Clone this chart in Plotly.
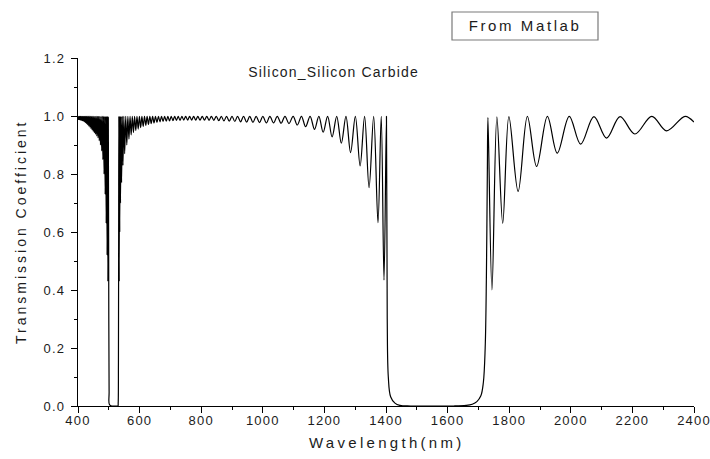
import plotly.graph_objects as go

# ---- data (extrema of the transmission curve) ----
# 400-532 nm: dense fringes left of the short-wavelength stop band, and the band itself
seg_a_wl = [400.0, 401.6, 403.2, 404.8, 406.4, 408.0, 409.6, 411.2, 412.9, 414.5, 416.2, 417.8,
            419.5, 421.1, 422.8, 424.5, 426.2, 427.9, 429.7, 431.4, 433.2, 434.9, 436.7, 438.5,
            440.3, 442.1, 444.0, 445.8, 447.7, 449.5, 451.4, 453.3, 455.2, 457.1, 459.1, 461.0,
            463.0, 464.9, 466.9, 468.9, 470.9, 472.9, 474.9, 476.9, 478.9, 480.8, 482.7, 484.6,
            486.4, 488.2, 489.9, 491.5, 493.0, 494.4, 495.7, 497.0, 498.4, 500.0, 501.0, 502.0,
            510.0, 520.0, 529.5, 530.5, 531.3, 532.0]
seg_a_t = [0.999, 0.988, 0.999, 0.987, 0.999, 0.986, 0.999, 0.985, 0.999, 0.984, 0.999, 0.982,
           0.999, 0.980, 0.999, 0.977, 0.999, 0.974, 0.999, 0.970, 0.999, 0.966, 0.999, 0.962,
           0.999, 0.957, 0.999, 0.952, 0.999, 0.947, 0.999, 0.942, 0.999, 0.937, 0.999, 0.931,
           0.999, 0.925, 0.999, 0.915, 0.999, 0.900, 0.999, 0.880, 0.999, 0.850, 0.999, 0.800,
           0.999, 0.730, 0.999, 0.630, 0.999, 0.520, 0.999, 0.430, 0.995, 0.300, 0.050, 0.005,
           0.000, 0.000, 0.000, 0.010, 0.150, 0.600]

# 532-1085 nm: fringes between the two stop bands
seg_b_wl = [532.6, 533.8, 534.7, 535.6, 536.8, 538.0, 539.8, 541.5, 543.8, 546.0, 548.8, 551.5,
            555.0, 558.4, 561.9, 565.4, 569.0, 572.6, 576.3, 580.0, 583.8, 587.6, 591.5, 595.4,
            599.4, 603.4, 607.5, 611.6, 615.9, 620.1, 624.4, 628.8, 633.2, 637.7, 642.3, 646.9,
            651.6, 656.4, 661.2, 666.1, 671.2, 676.2, 681.3, 686.5, 691.8, 697.2, 702.7, 708.2,
            713.8, 719.6, 725.3, 731.3, 737.2, 743.4, 749.6, 755.9, 762.4, 768.9, 775.5, 782.3,
            789.0, 796.2, 803.4, 810.6, 818.0, 825.5, 833.0, 841.0, 849.0, 857.1, 865.3, 873.8,
            882.3, 891.1, 900.0, 909.2, 918.0, 928.0, 937.5, 947.6, 957.5, 968.0, 978.5, 989.4,
            1000.0, 1011.7, 1023.0, 1035.0, 1047.0, 1059.4, 1072.0]
seg_b_t = [0.999, 0.430, 0.999, 0.600, 0.999, 0.700, 0.999, 0.770, 0.999, 0.830, 0.999, 0.870,
           0.999, 0.900, 0.999, 0.920, 0.999, 0.935, 0.999, 0.943, 0.999, 0.950, 0.999, 0.955,
           0.999, 0.960, 0.999, 0.964, 0.999, 0.968, 0.999, 0.971, 0.999, 0.974, 0.999, 0.976,
           0.999, 0.978, 0.999, 0.980, 0.999, 0.981, 0.999, 0.982, 0.999, 0.983, 0.999, 0.984,
           0.999, 0.985, 0.999, 0.985, 0.999, 0.986, 0.999, 0.986, 0.999, 0.986, 0.999, 0.986,
           0.999, 0.986, 0.999, 0.986, 0.999, 0.985, 0.999, 0.985, 0.999, 0.984, 0.999, 0.983,
           0.999, 0.982, 0.999, 0.981, 0.999, 0.980, 0.999, 0.979, 0.999, 0.978, 0.999, 0.977,
           0.999, 0.976, 0.999, 0.976, 0.999, 0.975, 0.999]

# 1085-1445 nm: growing fringes and the short edge of the main stop band
seg_c_wl = [1085.0, 1098.5, 1112.0, 1125.5, 1139.0, 1153.5, 1168.0, 1182.0, 1196.0, 1210.5,
            1225.0, 1240.0, 1255.0, 1270.0, 1285.0, 1300.5, 1316.0, 1330.5, 1345.0, 1360.0,
            1374.0, 1384.5, 1393.5, 1401.5, 1404.0, 1407.5, 1415.0, 1429.0, 1445.0]
seg_c_t = [0.974, 0.999, 0.969, 0.999, 0.963, 0.999, 0.954, 0.999, 0.944, 0.999,
           0.928, 0.999, 0.906, 0.999, 0.874, 0.999, 0.828, 0.999, 0.753, 0.999,
           0.632, 0.999, 0.434, 0.999, 0.300, 0.100, 0.032, 0.010, 0.002]

# 1480-2400 nm: inside the stop band, long edge and fringes beyond it
seg_d_wl = [1480.0, 1550.0, 1620.0, 1660.0, 1680.0, 1695.0, 1708.0, 1716.0, 1722.0, 1726.0,
            1729.0, 1731.0, 1744.0, 1760.0, 1779.0, 1799.0, 1829.0, 1859.0, 1889.0, 1924.0,
            1956.0, 1995.0, 2032.0, 2075.0, 2116.0, 2160.0, 2208.0, 2263.0, 2311.0, 2371.0, 2400.0]
seg_d_t = [0.000, 0.000, 0.000, 0.002, 0.006, 0.015, 0.035, 0.080, 0.200, 0.450,
           0.800, 0.995, 0.400, 0.997, 0.630, 0.998, 0.740, 0.999, 0.826, 0.999,
           0.872, 0.999, 0.903, 0.998, 0.924, 0.998, 0.938, 0.999, 0.949, 0.999, 0.979]

x_ticks = [400, 600, 800, 1000, 1200, 1400, 1600, 1800, 2000, 2200, 2400]
y_ticks = [0.0, 0.2, 0.4, 0.6, 0.8, 1.0, 1.2]

wl = seg_a_wl + seg_b_wl + seg_c_wl + seg_d_wl
tr = seg_a_t + seg_b_t + seg_c_t + seg_d_t

FONT = "Arial, Liberation Sans, sans-serif"
TXT = "#1c1c1c"

fig = go.Figure()
fig.add_trace(go.Scatter(x=wl, y=tr, mode="lines",
                         line=dict(color="black", width=1.2, shape="spline", smoothing=1.0),
                         hoverinfo="skip"))

axis_common = dict(showline=True, linecolor="black", linewidth=1.3, ticks="outside",
                   tickcolor="black", tickwidth=1.3, ticklen=6, showgrid=False, zeroline=False,
                   tickfont=dict(family=FONT, size=13, color=TXT), mirror=False)

fig.update_xaxes(range=[400, 2400], tickvals=x_ticks, ticktext=[str(v) for v in x_ticks],
                 minor=dict(ticks="outside", ticklen=3, tickwidth=1.3, tickcolor="black", dtick=100,
                            tick0=400, showgrid=False),
                 ticklabelstandoff=-4, **axis_common)
fig.update_yaxes(range=[0, 1.2], tickvals=y_ticks, ticktext=[f"{v:.1f}" for v in y_ticks],
                 minor=dict(ticks="outside", ticklen=3, tickwidth=1.3, tickcolor="black", dtick=0.1,
                            tick0=0, showgrid=False),
                 ticklabelstandoff=3, **axis_common)

W, H = 710, 459
L, R, T, B = 78, 16, 58, 53
pw, ph = W - L - R, H - T - B


def px(xp):
    return (xp - L) / pw


def py(yp):
    return (H - B - yp) / ph


fig.add_shape(type="rect", xref="paper", yref="paper", x0=px(452), x1=px(598), y0=py(40), y1=py(12),
              line=dict(color="#7a7a7a", width=1.2), fillcolor="white", layer="above")

anns = [
    dict(text="Silicon_Silicon Carbide", x=px(333), y=py(72), size=14, angle=0),
    dict(text="Transmission Coefficient", x=px(21), y=py(232), size=14, angle=-90),
    dict(text="Wavelength(nm)", x=px(386), y=py(442), size=15, angle=0),
    dict(text="From Matlab", x=px(525), y=py(26), size=15, angle=0),
]
for a in anns:
    fig.add_annotation(text=a["text"], x=a["x"], y=a["y"], xref="paper", yref="paper",
                       xanchor="center", yanchor="middle", showarrow=False, textangle=a["angle"],
                       font=dict(family=FONT, size=a["size"], color=TXT))

fig.update_layout(width=W, height=H, margin=dict(l=L, r=R, t=T, b=B, autoexpand=False),
                  paper_bgcolor="white", plot_bgcolor="white", showlegend=False)

post = """
var gd = document.getElementById('{plot_id}');
function spacing(){
  gd.querySelectorAll('.xtick text, .ytick text').forEach(function(e){ e.style.letterSpacing='1.2px'; });
  var ls = ['1.2px', '3px', '3.3px', '2.6px'];
  gd.querySelectorAll('.annotation-text').forEach(function(e, i){ e.style.letterSpacing = ls[i] || '0px'; });
}
spacing();
"""
fig.write_html("out.html", post_script=post)
